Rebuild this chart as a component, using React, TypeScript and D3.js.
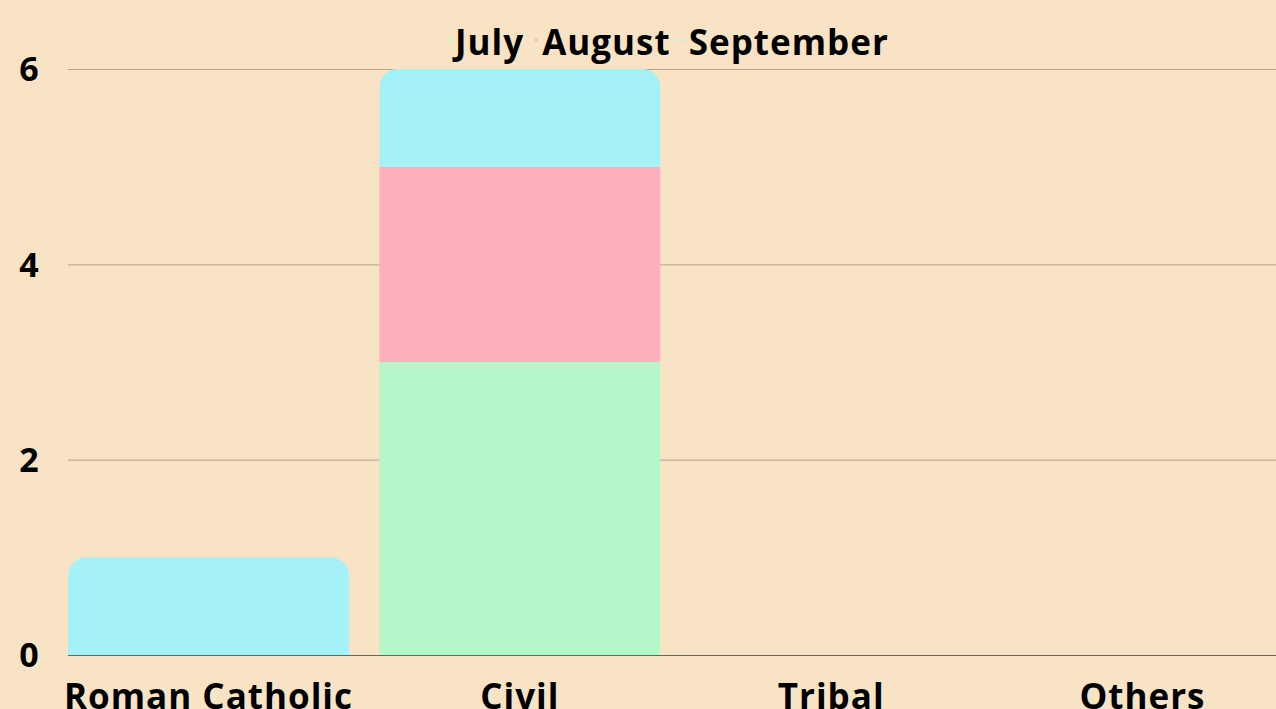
import { useEffect, useRef } from "react";
import * as d3 from "d3";

const categories = ["Roman Catholic", "Civil", "Tribal", "Others"];
const months = ["July", "August", "September"];
const july = [0, 3, 0, 0];
const august = [0, 2, 0, 0];
const september = [1, 1, 0, 0];
const yTicks = [0, 2, 4, 6];

const COLORS = ["#B4F7C8", "#FEAFBC", "#A4F2F7"];
const BG = "#F8E4C5";

export default function App() {
  const ref = useRef<SVGSVGElement>(null);

  useEffect(() => {
    if (!ref.current) return;
    const width = 1276;
    const height = 709;
    const margin = { top: 69, bottom: 54, left: 68 };

    const svg = d3.select(ref.current);
    svg.selectAll("*").remove();
    svg.attr("width", width).attr("height", height);

    svg.append("rect").attr("width", width).attr("height", height).attr("fill", BG);

    const rows = categories.map((c, i) => ({
      cat: c,
      July: july[i],
      August: august[i],
      September: september[i],
    }));

    const x = d3
      .scaleBand()
      .domain(categories)
      .range([52.5, 52.5 + 4 * 311.5])
      .paddingInner(0.098)
      .paddingOuter(0.05);

    const y = d3
      .scaleLinear()
      .domain([0, 6])
      .range([height - margin.bottom, margin.top]);

    // gridlines
    svg
      .append("g")
      .selectAll("line")
      .data(yTicks.filter((d) => d > 0))
      .join("line")
      .attr("x1", margin.left)
      .attr("x2", width)
      .attr("y1", (d) => y(d) + 0.5)
      .attr("y2", (d) => y(d) + 0.5)
      .attr("stroke", "#B5A58C")
      .attr("stroke-width", 1);

    // y labels
    svg
      .append("g")
      .selectAll("text")
      .data(yTicks)
      .join("text")
      .attr("x", 29)
      .attr("y", (d) => y(d))
      .attr("dy", "0.36em")
      .attr("text-anchor", "middle")
      .attr("font-family", "Open Sans")
      .attr("font-weight", 700)
      .attr("font-size", 34)
      .attr("fill", "#000")
      .text((d) => d);

    const stack = d3.stack<any>().keys(months)(rows as any);

    const r = 18;
    stack.forEach((layer, li) => {
      svg
        .append("g")
        .selectAll("path")
        .data(layer)
        .join("path")
        .attr("fill", COLORS[li])
        .attr("d", (d: any) => {
          if (d[1] - d[0] <= 0) return "";
          const x0 = x(d.data.cat) ?? 0;
          const w = x.bandwidth();
          const yTop = y(d[1]);
          const yBot = y(d[0]);
          // top of stack gets rounded corners
          const isTop = months.slice(li + 1).every((m) => d.data[m] === 0);
          if (!isTop) return `M${x0},${yBot}V${yTop}H${x0 + w}V${yBot}Z`;
          const p = d3.path();
          p.moveTo(x0, yBot);
          p.lineTo(x0, yTop + r);
          p.arcTo(x0, yTop, x0 + r, yTop, r);
          p.lineTo(x0 + w - r, yTop);
          p.arcTo(x0 + w, yTop, x0 + w, yTop + r, r);
          p.lineTo(x0 + w, yBot);
          p.closePath();
          return p.toString();
        });
    });

    // baseline
    svg
      .append("line")
      .attr("x1", margin.left)
      .attr("x2", width)
      .attr("y1", y(0) + 0.5)
      .attr("y2", y(0) + 0.5)
      .attr("stroke", "#666")
      .attr("stroke-width", 1);

    // x labels
    svg
      .append("g")
      .selectAll("text")
      .data(categories)
      .join("text")
      .attr("x", (d) => (x(d) ?? 0) + x.bandwidth() / 2)
      .attr("y", 709)
      .attr("text-anchor", "middle")
      .attr("font-family", "Open Sans")
      .attr("font-weight", 700)
      .attr("font-size", 35)
      .attr("letter-spacing", 1)
      .attr("fill", "#000")
      .text((d) => d);

    // legend
    const legend = svg.append("g").attr("transform", "translate(449,42)");
    let cx = 0;
    months.forEach((m, i) => {
      const g = legend.append("g").attr("transform", `translate(${cx},0)`);
      g.append("circle").attr("cx", 0).attr("cy", -2).attr("r", 1.5).attr("fill", COLORS[i]);
      const t = g
        .append("text")
        .attr("x", 6)
        .attr("y", 0)
        .attr("dy", "0.36em")
        .attr("font-family", "Open Sans")
        .attr("font-weight", 700)
        .attr("font-size", 35)
        .attr("letter-spacing", 1)
        .attr("fill", "#000")
        .text(m);
      const w = (t.node() as SVGTextElement).getComputedTextLength();
      cx += w + 6 + 12;
    });
  }, []);

  return (
    <div style={{ position: "fixed", left: 0, top: 0 }}>
      <svg ref={ref} style={{ display: "block" }} />
    </div>
  );
}
